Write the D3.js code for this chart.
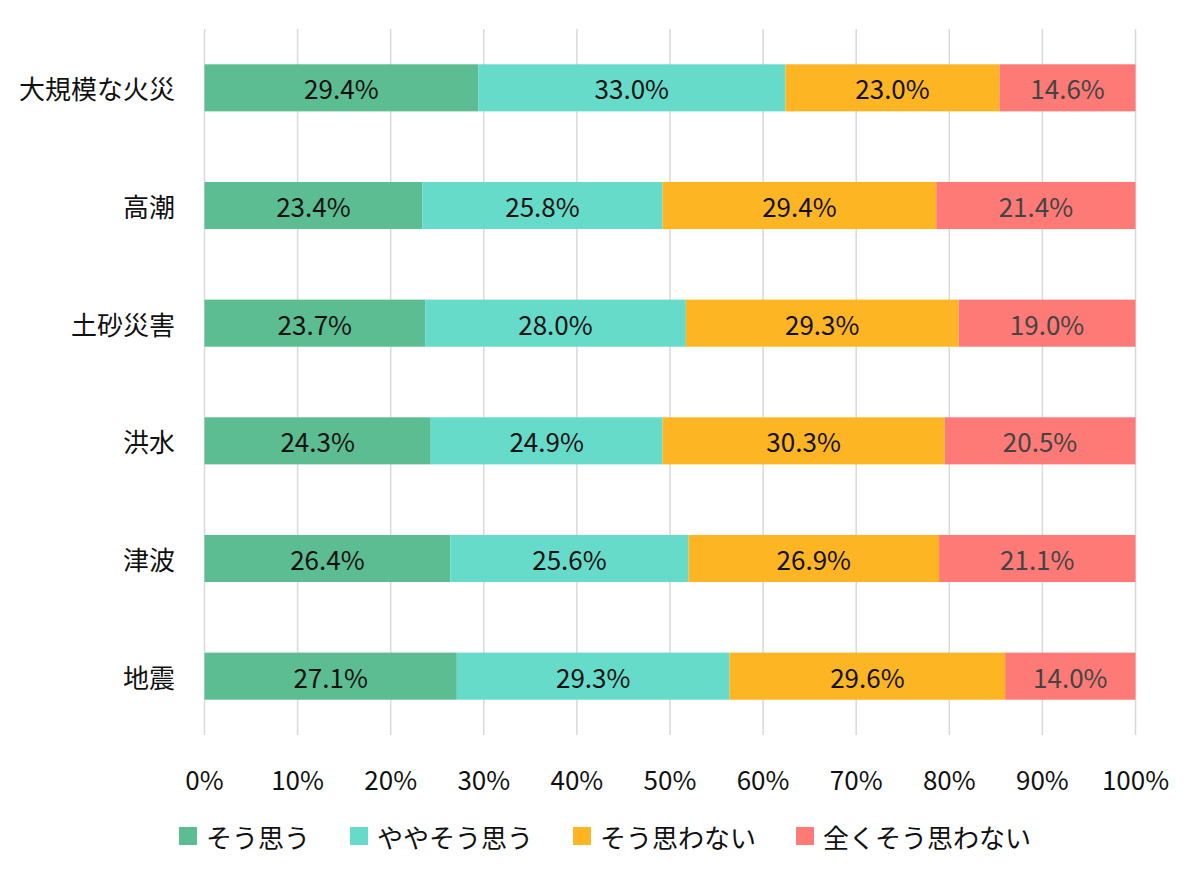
<!DOCTYPE html>
<html>
<head>
<meta charset="utf-8">
<script src="https://cdn.jsdelivr.net/npm/d3@7"></script>
<style>
  body { margin: 0; background: #fff; }
  text { font-family: "Noto Sans CJK JP", "Noto Sans", sans-serif; font-weight: 400; }
</style>
</head>
<body>
<script>
// categories top to bottom
var categories = ['大規模な火災', '高潮', '土砂災害', '洪水', '津波', '地震'];
var seriesNames = ['そう思う', 'ややそう思う', 'そう思わない', '全くそう思わない'];
var soOmou      = [29.4, 23.4, 23.7, 24.3, 26.4, 27.1];
var yaya        = [33.0, 25.8, 28.0, 24.9, 25.6, 29.3];
var soOmowanai  = [23.0, 29.4, 29.3, 30.3, 26.9, 29.6];
var mattaku     = [14.6, 21.4, 19.0, 20.5, 21.1, 14.0];
var xTicks = [0, 10, 20, 30, 40, 50, 60, 70, 80, 90, 100];

var colors = ['#5bbd91', '#66dbca', '#fdb523', '#fe7a76'];
var labelColors = ['#111', '#111', '#111', '#444'];

var width = 1200, height = 881;

var svg = d3.select('body')
    .append('svg')
    .attr('width', width)
    .attr('height', height)

var x = d3.scaleLinear()
    .domain([0, 100])
    .range([204.5, 1135.5])

var y = d3.scaleBand()
    .domain(categories)
    .range([29, 735])
    .paddingInner(0.6)
    .paddingOuter(0.3)

// gridlines
svg.selectAll('.grid')
    .data(xTicks)
    .enter()
    .append('line')
    .attr('x1', d => x(d))
    .attr('x2', d => x(d))
    .attr('y1', 29)
    .attr('y2', 735)
    .attr('stroke', '#d9d9d9')
    .attr('stroke-width', 1.5)

// build table for stack
var table = categories.map(function (c, i) {
  return {cat: c, s0: soOmou[i], s1: yaya[i], s2: soOmowanai[i], s3: mattaku[i]};
});
var stack = d3.stack().keys(['s0', 's1', 's2', 's3'])(table);

var groups = svg.selectAll('.series')
    .data(stack)
    .enter()
    .append('g')
    .attr('fill', (d, i) => colors[i])

groups.selectAll('rect')
    .data(d => d)
    .enter()
    .append('rect')
    .attr('x', d => x(d[0]))
    .attr('y', d => y(d.data.cat))
    .attr('width', d => x(d[1]) - x(d[0]))
    .attr('height', y.bandwidth())

stack.forEach(function (s, si) {
  svg.selectAll('.lbl' + si)
      .data(s)
      .enter()
      .append('text')
      .attr('x', d => (x(d[0]) + x(d[1])) / 2)
      .attr('y', d => y(d.data.cat) + y.bandwidth() / 2)
      .attr('text-anchor', 'middle')
      .attr('dominant-baseline', 'central')
      .attr('font-size', 26)
      .attr('fill', labelColors[si])
      .text(d => (d[1] - d[0]).toFixed(1) + '%')
});

// category labels
svg.selectAll('.cat')
    .data(categories)
    .enter()
    .append('text')
    .attr('x', 175)
    .attr('y', d => y(d) + y.bandwidth() / 2)
    .attr('text-anchor', 'end')
    .attr('dominant-baseline', 'central')
    .attr('font-size', 26)
    .attr('fill', '#111')
    .text(d => d)

// x tick labels
svg.selectAll('.tick')
    .data(xTicks)
    .enter()
    .append('text')
    .attr('x', d => x(d))
    .attr('y', 778)
    .attr('text-anchor', 'middle')
    .attr('dominant-baseline', 'central')
    .attr('font-size', 26)
    .attr('fill', '#111')
    .text(d => d + '%')

// legend
var lx = 179;
seriesNames.forEach(function (name, i) {
  svg.append('rect')
      .attr('x', lx)
      .attr('y', 827)
      .attr('width', 18)
      .attr('height', 18)
      .attr('fill', colors[i])
  var t = svg.append('text')
      .attr('x', lx + 27)
      .attr('y', 836)
      .attr('dominant-baseline', 'central')
      .attr('font-size', 26)
      .attr('fill', '#111')
      .text(name)
  lx = lx + 27 + t.node().getComputedTextLength() + 40;
});
</script>
</body>
</html>
